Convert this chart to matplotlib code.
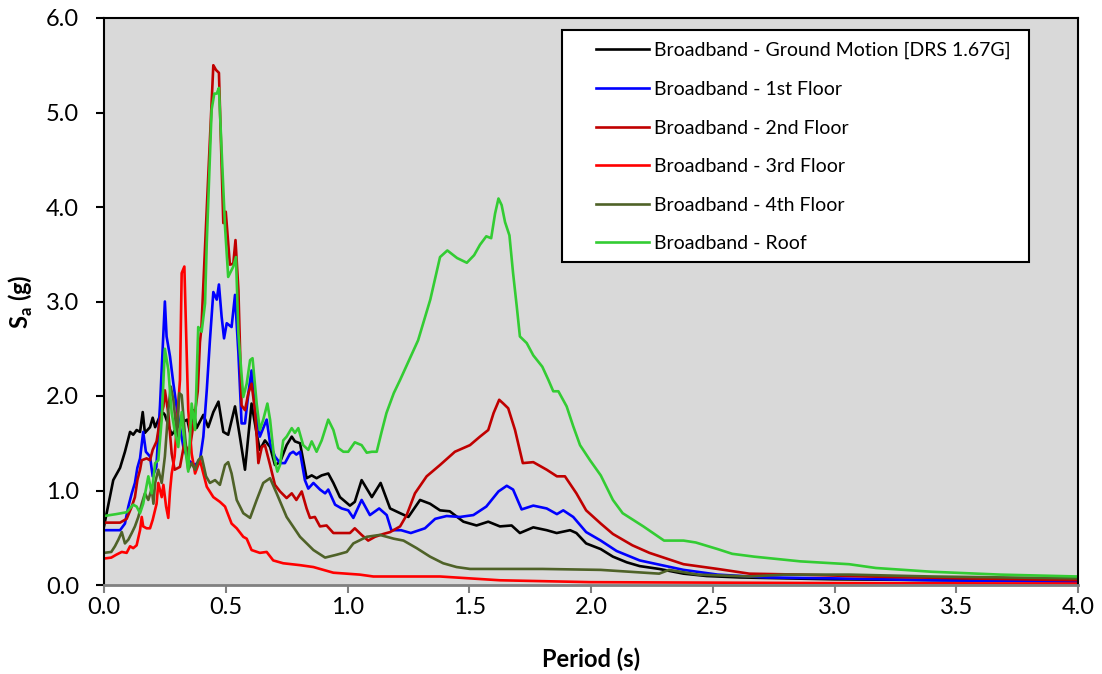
import matplotlib
matplotlib.use("Agg")
import matplotlib.pyplot as plt
from matplotlib.patches import Rectangle

# ---------------- data ----------------
gm_T = [0.000, 0.038, 0.066, 0.086, 0.107, 0.120, 0.134, 0.148, 0.159, 0.168,
        0.189, 0.200, 0.210, 0.227, 0.244, 0.250, 0.278, 0.312, 0.342, 0.353,
        0.367, 0.380, 0.408, 0.428, 0.449, 0.470, 0.490, 0.510, 0.538, 0.558,
        0.579, 0.606, 0.627, 0.640, 0.661, 0.682, 0.702, 0.723, 0.750, 0.771,
        0.784, 0.805, 0.832, 0.853, 0.873, 0.894, 0.921, 0.942, 0.969, 1.010,
        1.030, 1.058, 1.100, 1.136, 1.175, 1.216, 1.250, 1.298, 1.339, 1.380,
        1.420, 1.476, 1.530, 1.578, 1.626, 1.674, 1.708, 1.763, 1.818, 1.859,
        1.914, 1.940, 1.980, 2.040, 2.090, 2.147, 2.200, 2.280, 2.380, 2.475,
        2.610, 2.800, 3.000, 3.500, 4.000]
gm_Sa = [0.62, 1.11, 1.24, 1.41, 1.62, 1.59, 1.64, 1.62, 1.83, 1.61,
         1.67, 1.77, 1.67, 1.77, 1.82, 1.80, 1.59, 1.71, 1.75, 1.62,
         1.85, 1.66, 1.80, 1.67, 1.83, 1.94, 1.62, 1.59, 1.89, 1.57,
         1.22, 1.92, 1.60, 1.43, 1.53, 1.46, 1.27, 1.30, 1.48, 1.57,
         1.52, 1.50, 1.13, 1.16, 1.13, 1.16, 1.18, 1.08, 0.93, 0.84,
         0.88, 1.11, 0.93, 1.08, 0.81, 0.76, 0.72, 0.90, 0.86, 0.79,
         0.78, 0.67, 0.63, 0.67, 0.62, 0.63, 0.55, 0.61, 0.58, 0.55,
         0.58, 0.55, 0.44, 0.38, 0.30, 0.24, 0.20, 0.17, 0.12, 0.095,
         0.08, 0.07, 0.06, 0.05, 0.04]

fl1_T = [0.000, 0.066, 0.086, 0.100, 0.114, 0.127, 0.137, 0.148, 0.161, 0.172,
         0.189, 0.200, 0.215, 0.230, 0.250, 0.257, 0.271, 0.285, 0.300, 0.312,
         0.326, 0.346, 0.374, 0.394, 0.408, 0.422, 0.435, 0.449, 0.463, 0.472,
         0.483, 0.493, 0.504, 0.524, 0.538, 0.552, 0.565, 0.579, 0.593, 0.606,
         0.620, 0.640, 0.654, 0.668, 0.682, 0.702, 0.723, 0.743, 0.764, 0.777,
         0.790, 0.805, 0.825, 0.839, 0.860, 0.887, 0.908, 0.921, 0.949, 0.976,
         1.003, 1.024, 1.058, 1.092, 1.130, 1.161, 1.180, 1.220, 1.260, 1.318,
         1.360, 1.407, 1.462, 1.517, 1.570, 1.620, 1.654, 1.680, 1.715, 1.763,
         1.818, 1.860, 1.886, 1.927, 1.980, 2.040, 2.105, 2.200, 2.380, 2.520,
         2.720, 3.000, 3.400, 4.000]
fl1_Sa = [0.58, 0.58, 0.65, 0.83, 0.97, 1.08, 1.24, 1.34, 1.62, 1.41,
          1.36, 1.15, 1.25, 1.90, 3.00, 2.63, 2.42, 2.13, 1.85, 1.67,
          1.46, 1.32, 1.27, 1.32, 1.57, 2.06, 2.59, 3.10, 3.02, 3.18,
          2.84, 2.61, 2.77, 2.73, 3.07, 2.45, 1.71, 1.71, 2.03, 2.27,
          1.85, 1.57, 1.66, 1.75, 1.50, 1.36, 1.29, 1.29, 1.39, 1.41,
          1.38, 1.41, 1.11, 1.02, 1.08, 1.01, 0.97, 1.01, 0.85, 0.81,
          0.79, 0.71, 0.90, 0.74, 0.81, 0.74, 0.58, 0.58, 0.55, 0.60,
          0.70, 0.73, 0.72, 0.74, 0.83, 0.99, 1.05, 1.01, 0.80, 0.84,
          0.81, 0.75, 0.79, 0.72, 0.56, 0.47, 0.36, 0.26, 0.16, 0.11,
          0.08, 0.07, 0.05, 0.035]

fl2_T = [0.000, 0.066, 0.093, 0.114, 0.127, 0.137, 0.148, 0.155, 0.175, 0.189,
         0.200, 0.216, 0.230, 0.244, 0.250, 0.264, 0.278, 0.290, 0.312, 0.330,
         0.350, 0.370, 0.385, 0.394, 0.400, 0.428, 0.449, 0.460, 0.472, 0.490,
         0.500, 0.517, 0.531, 0.540, 0.552, 0.565, 0.579, 0.593, 0.606, 0.620,
         0.634, 0.648, 0.661, 0.682, 0.702, 0.723, 0.750, 0.771, 0.790, 0.812,
         0.832, 0.846, 0.866, 0.887, 0.914, 0.942, 0.983, 1.010, 1.030, 1.058,
         1.085, 1.113, 1.147, 1.175, 1.216, 1.243, 1.277, 1.325, 1.380, 1.441,
         1.503, 1.544, 1.578, 1.600, 1.623, 1.640, 1.660, 1.688, 1.720, 1.763,
         1.818, 1.860, 1.893, 1.940, 1.980, 2.040, 2.090, 2.170, 2.240, 2.380,
         2.520, 2.650, 2.860, 3.130, 3.540, 4.000]
fl2_Sa = [0.66, 0.66, 0.70, 0.83, 0.93, 1.11, 1.22, 1.32, 1.34, 1.32,
          1.43, 1.52, 1.75, 1.89, 2.06, 1.82, 1.39, 1.22, 1.25, 1.50,
          1.40, 1.75, 2.05, 2.57, 2.72, 4.32, 5.50, 5.45, 5.42, 3.83,
          3.95, 3.39, 3.40, 3.65, 3.12, 1.90, 1.85, 2.03, 2.13, 1.85,
          1.29, 1.46, 1.48, 1.27, 1.06, 0.99, 0.92, 0.97, 0.90, 0.99,
          0.81, 0.71, 0.72, 0.62, 0.63, 0.55, 0.55, 0.55, 0.60, 0.53,
          0.47, 0.51, 0.54, 0.56, 0.62, 0.74, 0.97, 1.15, 1.27, 1.41,
          1.48, 1.57, 1.64, 1.82, 1.96, 1.92, 1.87, 1.64, 1.29, 1.30,
          1.22, 1.15, 1.15, 0.97, 0.79, 0.65, 0.54, 0.42, 0.34, 0.22,
          0.17, 0.12, 0.11, 0.09, 0.07, 0.05]

fl3_T = [0.000, 0.030, 0.050, 0.073, 0.093, 0.107, 0.120, 0.134, 0.148, 0.155,
         0.161, 0.175, 0.189, 0.200, 0.216, 0.223, 0.237, 0.244, 0.255, 0.264,
         0.271, 0.278, 0.290, 0.300, 0.312, 0.319, 0.330, 0.338, 0.346, 0.360,
         0.374, 0.394, 0.422, 0.449, 0.476, 0.497, 0.524, 0.545, 0.572, 0.586,
         0.606, 0.640, 0.668, 0.695, 0.736, 0.805, 0.860, 0.942, 1.050, 1.106,
         1.380, 1.626, 2.000, 2.500, 3.000, 4.000]
fl3_Sa = [0.28, 0.29, 0.32, 0.35, 0.34, 0.41, 0.39, 0.42, 0.58, 0.72,
          0.62, 0.60, 0.60, 0.69, 0.86, 1.08, 0.93, 1.06, 0.83, 0.71,
          0.99, 1.18, 1.36, 1.73, 2.17, 3.30, 3.37, 2.60, 1.85, 1.39,
          1.18, 1.32, 1.04, 0.93, 0.88, 0.83, 0.65, 0.60, 0.51, 0.49,
          0.37, 0.34, 0.35, 0.26, 0.23, 0.21, 0.19, 0.13, 0.11, 0.09,
          0.09, 0.05, 0.03, 0.025, 0.02, 0.015]

fl4_T = [0.000, 0.030, 0.045, 0.059, 0.073, 0.086, 0.100, 0.114, 0.127, 0.141,
         0.155, 0.168, 0.182, 0.196, 0.203, 0.210, 0.223, 0.237, 0.250, 0.264,
         0.274, 0.285, 0.300, 0.309, 0.319, 0.333, 0.346, 0.360, 0.374, 0.387,
         0.401, 0.419, 0.435, 0.456, 0.476, 0.497, 0.510, 0.524, 0.545, 0.572,
         0.600, 0.627, 0.654, 0.682, 0.709, 0.750, 0.805, 0.860, 0.908, 0.955,
         0.997, 1.024, 1.079, 1.133, 1.190, 1.230, 1.284, 1.339, 1.393, 1.448,
         1.503, 1.626, 1.800, 2.040, 2.280, 2.320, 2.440, 2.650, 2.790, 3.060,
         3.400, 4.000]
fl4_Sa = [0.34, 0.35, 0.41, 0.48, 0.56, 0.44, 0.48, 0.55, 0.62, 0.72,
          0.86, 0.97, 0.90, 1.02, 0.86, 1.08, 1.22, 1.08, 1.36, 1.85,
          2.10, 1.96, 1.57, 2.03, 2.01, 1.57, 1.22, 1.29, 1.22, 1.32,
          1.36, 1.15, 1.08, 1.11, 1.06, 1.27, 1.30, 1.18, 0.90, 0.76,
          0.71, 0.90, 1.08, 1.13, 0.97, 0.72, 0.51, 0.37, 0.29, 0.32,
          0.35, 0.44, 0.51, 0.53, 0.49, 0.47, 0.39, 0.30, 0.23, 0.19,
          0.17, 0.17, 0.17, 0.16, 0.12, 0.16, 0.11, 0.09, 0.11, 0.11,
          0.09, 0.07]

rf_T = [0.000, 0.050, 0.093, 0.120, 0.134, 0.148, 0.161, 0.182, 0.196, 0.210,
        0.223, 0.237, 0.250, 0.264, 0.278, 0.290, 0.305, 0.319, 0.333, 0.346,
        0.360, 0.374, 0.387, 0.401, 0.415, 0.422, 0.442, 0.453, 0.463, 0.472,
        0.483, 0.497, 0.510, 0.531, 0.542, 0.552, 0.572, 0.586, 0.600, 0.610,
        0.627, 0.640, 0.654, 0.671, 0.682, 0.698, 0.712, 0.723, 0.736, 0.750,
        0.771, 0.784, 0.798, 0.818, 0.839, 0.853, 0.873, 0.894, 0.921, 0.942,
        0.962, 0.983, 1.003, 1.030, 1.058, 1.079, 1.100, 1.120, 1.140, 1.160,
        1.190, 1.216, 1.290, 1.340, 1.380, 1.410, 1.450, 1.490, 1.520, 1.544,
        1.570, 1.590, 1.606, 1.620, 1.633, 1.647, 1.665, 1.680, 1.695, 1.708,
        1.736, 1.763, 1.800, 1.825, 1.845, 1.866, 1.900, 1.927, 1.955, 1.996,
        2.040, 2.090, 2.130, 2.215, 2.300, 2.380, 2.430, 2.520, 2.580, 2.670,
        2.860, 3.060, 3.170, 3.400, 3.680, 4.000]
rf_Sa = [0.73, 0.75, 0.77, 0.85, 0.83, 0.76, 0.86, 1.15, 0.97, 1.29,
         1.32, 1.75, 2.50, 2.28, 1.82, 1.64, 1.46, 1.83, 1.45, 1.20,
         1.92, 1.64, 2.73, 2.68, 2.98, 3.62, 5.03, 5.20, 5.20, 5.26,
         4.60, 3.79, 3.26, 3.37, 3.47, 2.66, 1.99, 2.13, 2.38, 2.40,
         1.92, 1.64, 1.75, 1.92, 1.75, 1.36, 1.20, 1.27, 1.53, 1.57,
         1.66, 1.61, 1.66, 1.48, 1.43, 1.52, 1.41, 1.53, 1.75, 1.64,
         1.45, 1.41, 1.41, 1.51, 1.48, 1.40, 1.41, 1.41, 1.62, 1.82,
         2.03, 2.17, 2.59, 3.02, 3.47, 3.54, 3.46, 3.41, 3.49, 3.60,
         3.69, 3.67, 3.93, 4.09, 4.02, 3.84, 3.70, 3.30, 2.95, 2.63,
         2.56, 2.43, 2.31, 2.17, 2.05, 2.05, 1.89, 1.68, 1.48, 1.32,
         1.16, 0.90, 0.76, 0.62, 0.47, 0.47, 0.45, 0.38, 0.33, 0.30,
         0.25, 0.22, 0.18, 0.14, 0.11, 0.09]

labels = ["Broadband - Ground Motion [DRS 1.67G]",
          "Broadband - 1st Floor",
          "Broadband - 2nd Floor",
          "Broadband - 3rd Floor",
          "Broadband - 4th Floor",
          "Broadband - Roof"]
x_ticks = [0.0, 0.5, 1.0, 1.5, 2.0, 2.5, 3.0, 3.5, 4.0]
y_ticks = [0.0, 1.0, 2.0, 3.0, 4.0, 5.0, 6.0]

# ---------------- style ----------------
FONT = "Lato"
plt.rcParams["font.family"] = [FONT, "DejaVu Sans"]
plt.rcParams["mathtext.fontset"] = "custom"
plt.rcParams["mathtext.rm"] = FONT
plt.rcParams["mathtext.bf"] = FONT + ":bold"

colors = ["#000000", "#0000FF", "#C00000", "#FF0000", "#4F6228", "#33CC33"]
series = [(gm_T, gm_Sa), (fl1_T, fl1_Sa), (fl2_T, fl2_Sa),
          (fl3_T, fl3_Sa), (fl4_T, fl4_Sa), (rf_T, rf_Sa)]

W, H = 1102, 674
fig = plt.figure(figsize=(W / 100, H / 100), dpi=100)
ax = fig.add_axes([104 / W, 89 / H, 974 / W, 567 / H])
ax.set_facecolor("#D9D9D9")

for (t, s), c, lab in zip(series, colors, labels):
    ax.plot(t, s, color=c, lw=1.9, label=lab, solid_joinstyle="round")

ax.set_xlim(0, 4.0)
ax.set_ylim(0, 6.0)
ax.set_xticks(x_ticks)
ax.set_yticks(y_ticks)
ax.set_xticklabels([f"{v:.1f}" for v in x_ticks], fontsize=17)
ax.set_yticklabels([f"{v:.1f}" for v in y_ticks], fontsize=17)
ax.tick_params(axis="x", direction="out", length=6, width=1.5, color="#808080", pad=3)
ax.tick_params(axis="y", direction="out", length=6, width=1.5, color="#000000", pad=12)

for side in ["left", "top", "right"]:
    ax.spines[side].set_color("#000000")
    ax.spines[side].set_linewidth(1.5)
ax.spines["bottom"].set_color("#808080")
ax.spines["bottom"].set_linewidth(2.0)

ax.set_xlabel("Period (s)", fontsize=17, fontweight="bold")
ax.set_ylabel(r"S$_\mathbf{a}$ (g)", fontsize=17, fontweight="bold")
ax.xaxis.set_label_coords(0.5, (585 - 648) / 567)
ax.yaxis.set_label_coords((35 - 104) / 974, 0.5)

# legend box (white with black border) drawn as a patch, legend entries frameless
box = Rectangle((458 / 974, 323 / 567), 467 / 974, 232 / 567, transform=ax.transAxes,
                facecolor="white", edgecolor="#000000", linewidth=1.5, zorder=4.5,
                clip_on=False)
ax.add_patch(box)
leg = ax.legend(loc="upper left", bbox_to_anchor=((596 - 104) / 974, (585 - 42) / 567),
                borderaxespad=0, borderpad=0, fontsize=14, frameon=False,
                handlelength=2.73, handletextpad=0.26, labelspacing=1.11)
leg.set_zorder(5)

fig.savefig("out.png", dpi=100, facecolor="white")
